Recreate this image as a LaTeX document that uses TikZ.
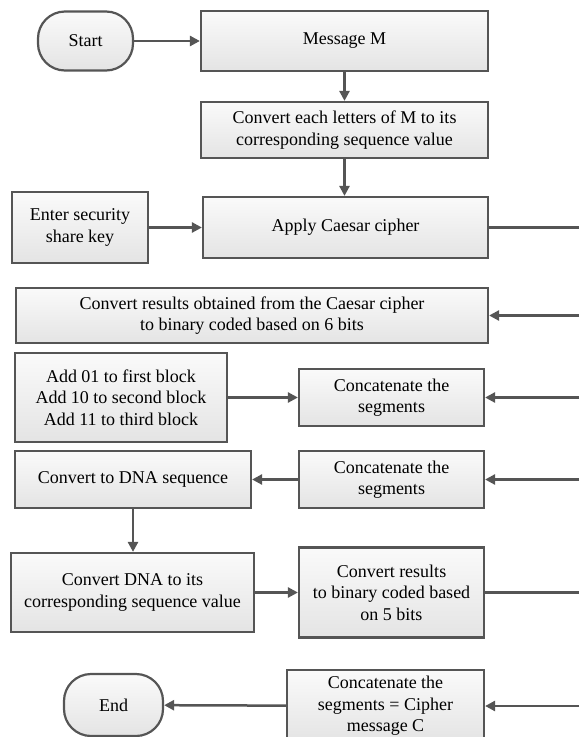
\documentclass[tikz,border=0pt]{standalone}
\usepackage{fontspec}
\setmainfont{Liberation Serif}
\usepackage{tikz}
\usetikzlibrary{arrows.meta}
\definecolor{EdgeGray}{HTML}{555555}
\definecolor{FillTop}{HTML}{FAFAFA}
\definecolor{FillBot}{HTML}{E4E4E4}

\begin{document}
\begin{tikzpicture}[x=1pt,y=-1pt]
		\tikzstyle{every node}=[font=\fontsize{18}{21.5}\selectfont]
		\tikzstyle{boxsty}=[draw=EdgeGray,line width=2.2pt,top color=FillTop,bottom color=FillBot,
				      align=center,inner sep=2pt]
		\tikzstyle{termsty}=[boxsty,rounded corners=27pt]
		\tikzstyle{arrsty}=[draw=EdgeGray,line width=2.5pt,-{Triangle[length=10pt,width=10pt]}]
		\tikzstyle{linesty}=[draw=EdgeGray,line width=2.5pt]

\useasboundingbox (0,0) rectangle (579,737);

% top part
\node[termsty,minimum width=95pt,minimum height=59pt] at (85.5,41) (start) {Start};
\node[boxsty,minimum width=287pt,minimum height=60pt,xshift=259pt] at (start) (msg) {Message M};
\node[boxsty,minimum width=287pt,minimum height=56pt,yshift=-89pt] at (msg) (conv_letters) {Convert each letters of M to its\\corresponding sequence value};
\node[boxsty,minimum width=285pt,minimum height=61pt,yshift=-97.5pt,xshift=1pt] at (conv_letters) (caesar) {Apply Caesar cipher};
\node[boxsty,minimum width=136pt,minimum height=71pt,xshift=-265.5pt] at (caesar) (share_key) {Enter security\\share key};

% binary part
\node[boxsty,minimum width=472pt,minimum height=55pt] at (252,315.5) (conv_bin6) {Convert results obtained from the Caesar cipher\\to binary coded based on 6 bits};
\node[boxsty,minimum width=212pt,minimum height=89pt] at (121,397.5) (add_blocks) {Add 01 to first block\\Add 10 to second block\\Add 11 to third block};
\node[boxsty,minimum width=185pt,minimum height=57pt,xshift=270.5pt] at (add_blocks) (concat_a) {Concatenate the\\segments};
\node[boxsty,minimum width=185pt,minimum height=57pt,yshift=-82pt] at (concat_a) (concat_b) {Concatenate the\\segments};
\node[boxsty,minimum width=236pt,minimum height=57pt,xshift=-258.5pt] at (concat_b) (to_dna) {Convert to DNA sequence};

% bottom part
\node[boxsty,minimum width=243pt,minimum height=79pt] at (132.5,592.5) (dna_value) {Convert DNA to its\\corresponding sequence value};
\node[boxsty,minimum width=185pt,minimum height=90pt,xshift=259pt] at (dna_value) (conv_bin5) {Convert results\\to binary coded based\\on 5 bits};
\node[boxsty,minimum width=197pt,minimum height=72pt] at (385.5,706) (cipher_msg) {Concatenate the\\segments = Cipher\\message C};
\node[termsty,minimum width=99pt,minimum height=62pt] at (113.5,705) (end) {End};

% connectors
\draw[arrsty] (start) -- (msg);
\draw[arrsty] (msg) -- (conv_letters);
\draw[arrsty] (conv_letters.south) -- (caesar.north -| conv_letters.south);
\draw[arrsty] (share_key) -- (caesar);
\draw[arrsty] (add_blocks.east |- concat_a) -- (concat_a);
\draw[arrsty] (concat_b) -- (to_dna);
\draw[arrsty] (to_dna.south) -- (dna_value.north -| to_dna.south);
\draw[arrsty] (dna_value) -- (conv_bin5);
\draw[arrsty] (cipher_msg) -- (end);

% links to the right margin
\coordinate (rim) at (579,0);
\foreach \n in {conv_bin6,concat_a,concat_b,cipher_msg}
{
  \coordinate (rim_\n) at (\n.east -| rim);
  \draw[arrsty] (rim_\n) -- (\n.east);
}
\foreach \n in {caesar,conv_bin5}
{
  \coordinate (rim_\n) at (\n.east -| rim);
  \draw[linesty] (\n.east) -- (rim_\n);
}

\end{tikzpicture}
\end{document}
